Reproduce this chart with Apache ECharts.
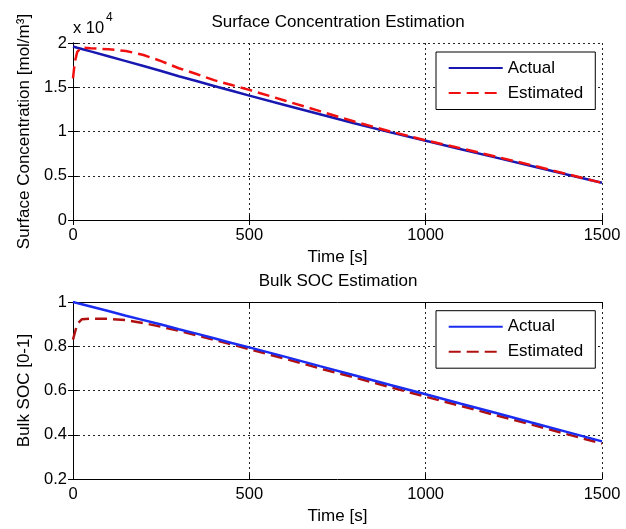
<!DOCTYPE html>
<html>
<head>
<meta charset="utf-8">
<script src="https://cdn.jsdelivr.net/npm/echarts@6/dist/echarts.min.js"></script>
<style>
  html, body { margin: 0; padding: 0; background: #fff; }
  #chart { width: 626px; height: 529px; }
</style>
</head>
<body>
<div id="chart"></div>
<script>
// Sample times [s]
var time = [0, 5, 12, 25, 50, 100, 150, 200, 250, 300, 350, 400, 450, 500,
            600, 700, 800, 900, 1000, 1100, 1200, 1300, 1400, 1500];

// Surface concentration [mol/m^3]
var surfActual = [19600, 19550, 19470, 19330, 19050, 18500, 17950, 17400, 16830, 16250, 15700, 15150, 14600, 14050,
                  13000, 11950, 10900, 9900, 8950, 8000, 7050, 6100, 5150, 4200];
var surfEstimated = [16000, 17800, 19000, 19500, 19400, 19300, 19100, 18650, 17950, 17150, 16500, 15800, 15250, 14700,
                     13500, 12300, 11100, 10000, 9000, 8100, 7150, 6200, 5200, 4200];

// Bulk state of charge [0-1]
var socActual = [1.0, 0.998, 0.995, 0.99, 0.98, 0.959, 0.938, 0.918, 0.898, 0.877, 0.857, 0.836, 0.815, 0.795,
                 0.753, 0.710, 0.668, 0.625, 0.583, 0.540, 0.498, 0.455, 0.413, 0.370];
var socEstimated = [0.83, 0.86, 0.90, 0.922, 0.925, 0.924, 0.918, 0.905, 0.888, 0.870, 0.850, 0.829, 0.808, 0.787,
                    0.744, 0.700, 0.658, 0.615, 0.572, 0.530, 0.488, 0.446, 0.403, 0.360];

var xTicks = { min: 0, max: 1500, interval: 500 };

function pairs(xs, ys) {
  return xs.map(function (x, i) { return [x, ys[i]]; });
}

var FONT = "'Liberation Sans', Arial, sans-serif";
var black = '#000';

function xAxisMain(grid) {
  return {
    gridIndex: grid, type: 'value', position: 'bottom',
    min: xTicks.min, max: xTicks.max, interval: xTicks.interval,
    axisLine: { lineStyle: { color: black, width: 1 } },
    axisTick: { inside: true, length: 5, lineStyle: { color: black } },
    axisLabel: { color: black, fontSize: 16.5, fontFamily: FONT, margin: 7,
                 formatter: function (v) { return String(v); } },
    splitLine: { show: true, lineStyle: { color: '#222', type: [2, 3], width: 1 } },
    name: 'Time [s]', nameLocation: 'middle', nameGap: 29,
    nameTextStyle: { color: black, fontSize: 17, fontFamily: FONT }
  };
}
function xAxisTop(grid) {
  return {
    gridIndex: grid, type: 'value', position: 'top',
    min: xTicks.min, max: xTicks.max, interval: xTicks.interval,
    axisLine: { lineStyle: { color: black, width: 1 } },
    axisTick: { inside: true, length: 5, lineStyle: { color: black } },
    axisLabel: { show: false }, splitLine: { show: false }
  };
}
function yAxisRight(grid, min, max, interval) {
  return {
    gridIndex: grid, type: 'value', position: 'right',
    min: min, max: max, interval: interval,
    axisLine: { show: true, lineStyle: { color: black, width: 1 } },
    axisTick: { show: true, inside: true, length: 5, lineStyle: { color: black } },
    axisLabel: { show: false }, splitLine: { show: false }
  };
}
function yAxisLeft(grid, min, max, interval, name, fmt) {
  return {
    gridIndex: grid, type: 'value', position: 'left',
    min: min, max: max, interval: interval,
    axisLine: { show: true, lineStyle: { color: black, width: 1 } },
    axisTick: { show: true, inside: true, length: 5, lineStyle: { color: black } },
    axisLabel: { color: black, fontSize: 16.5, fontFamily: FONT, margin: 6, formatter: fmt },
    splitLine: { show: true, lineStyle: { color: '#222', type: [2, 3], width: 1 } },
    name: name, nameLocation: 'middle', nameGap: 38, nameRotate: 90,
    nameTextStyle: { color: black, fontSize: 17, fontFamily: FONT }
  };
}

function legendBox(top, names, fmt) {
  return {
    orient: 'vertical', left: 436, top: top,
    data: names,
    padding: [7.5, 12, 8, 11.7],
    itemGap: 8, itemWidth: 54, itemHeight: 14,
    borderColor: black, borderWidth: 1, backgroundColor: '#fff',
    selectedMode: false,
    itemStyle: { opacity: 0 },
    formatter: fmt,
    textStyle: { color: black, fontSize: 17, fontFamily: FONT }
  };
}

function lineSeries(name, xi, yi, data, color, dashed, z) {
  return {
    name: name, type: 'line', xAxisIndex: xi, yAxisIndex: yi,
    data: data, symbol: 'none', showSymbol: false, z: z,
    lineStyle: { color: color, width: 2.5, type: dashed ? [12, 6] : 'solid' },
    itemStyle: { color: color },
    animation: false
  };
}

var chart = echarts.init(document.getElementById('chart'), null, { renderer: 'canvas' });
chart.setOption({
  backgroundColor: '#fff',
  animation: false,
  textStyle: { fontFamily: FONT },
  title: [
    { text: 'Surface Concentration Estimation', left: 338, top: 13.5, textAlign: 'center', padding: 0,
      textStyle: { color: black, fontSize: 17, fontWeight: 'normal', fontFamily: FONT } },
    { text: 'Bulk SOC Estimation', left: 338, top: 272.5, textAlign: 'center', padding: 0,
      textStyle: { color: black, fontSize: 17, fontWeight: 'normal', fontFamily: FONT } }
  ],
  grid: [
    { left: 73, right: 24, top: 43, height: 177, containLabel: false },
    { left: 73, right: 24, top: 302, height: 177, containLabel: false }
  ],
  xAxis: [xAxisMain(0), xAxisTop(0), xAxisMain(1), xAxisTop(1)],
  yAxis: [
    yAxisLeft(0, 0, 20000, 5000, 'Surface Concentration [mol/m\u00b3]', function (v) { return String(v / 10000); }),
    yAxisRight(0, 0, 20000, 5000),
    yAxisLeft(1, 0.2, 1, 0.2, 'Bulk SOC [0-1]', function (v) { return String(Math.round(v * 10) / 10); }),
    yAxisRight(1, 0.2, 1, 0.2)
  ],
  legend: [
    legendBox(52, ['Actual', 'Estimated']),
    legendBox(310.7, ['Actual SOC', 'Estimated SOC'], function (n) { return n.replace(' SOC', ''); })
  ],
  graphic: [
    { type: 'text', left: 73, top: 19.5, style: { text: 'x 10', fill: black, fontSize: 16.5, fontFamily: FONT } },
    { type: 'text', left: 106, top: 12, style: { text: '4', fill: black, fontSize: 12, fontFamily: FONT } }
  ],
  series: [
    lineSeries('Actual', 0, 0, pairs(time, surfActual), '#1818b0', false, 2),
    lineSeries('Estimated', 0, 0, pairs(time, surfEstimated), '#f01010', true, 3),
    lineSeries('Actual SOC', 2, 2, pairs(time, socActual), '#1a2cf0', false, 3),
    lineSeries('Estimated SOC', 2, 2, pairs(time, socEstimated), '#b01010', true, 2)
  ]
});
</script>
</body>
</html>
